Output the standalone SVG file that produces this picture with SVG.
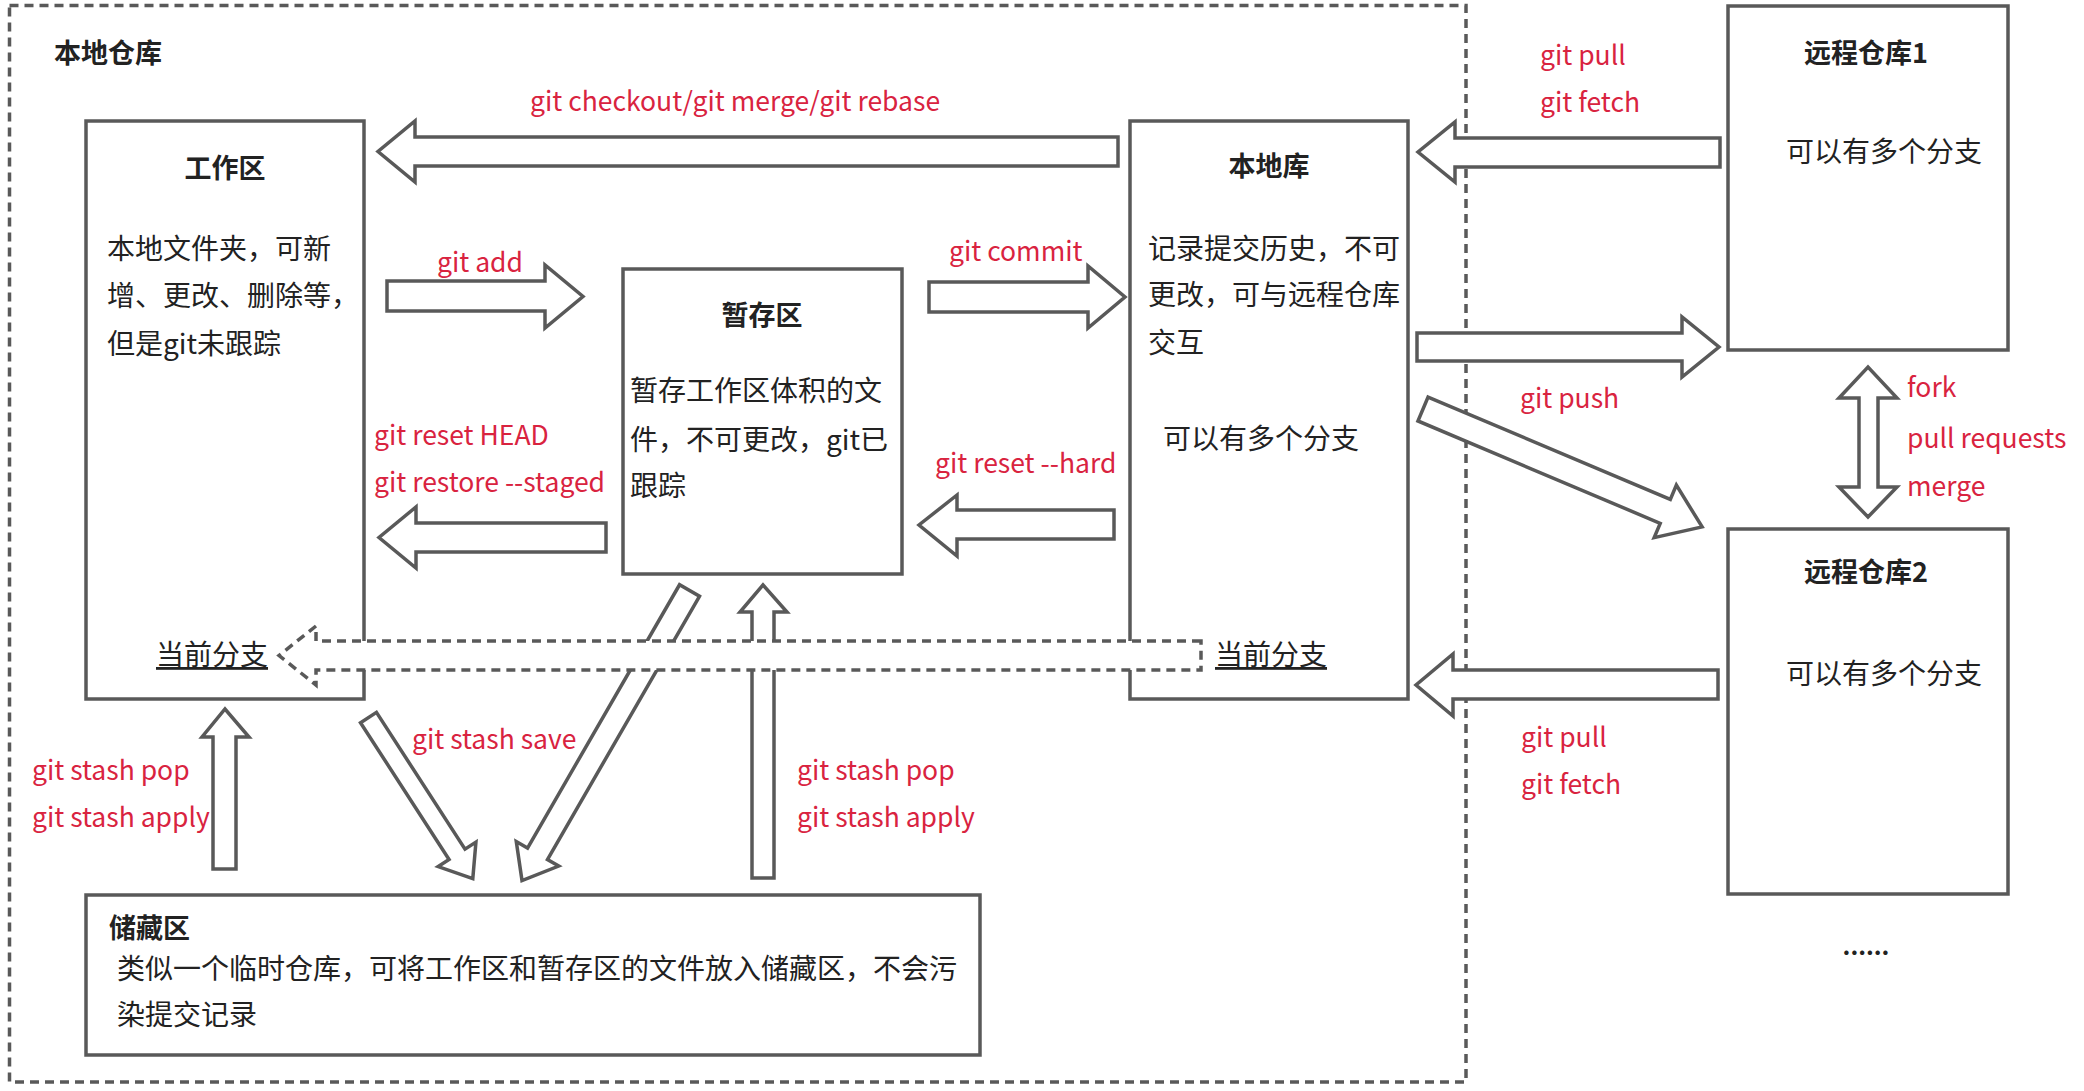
<svg xmlns="http://www.w3.org/2000/svg" width="2084" height="1091" viewBox="0 0 2084 1091">
<style>
.box{fill:#fff;stroke:#595959;stroke-width:3.5}
.arr{fill:#fff;stroke:#595959;stroke-width:3.5;stroke-linejoin:miter}
.dash{fill:none;stroke:#595959;stroke-width:3.5;stroke-dasharray:9 6}
.dasharr{fill:#fff;stroke:#595959;stroke-width:3.5;stroke-dasharray:9 6}
text{font-family:"Noto Sans CJK SC","Microsoft YaHei",sans-serif}
.t{font-size:27px;font-weight:bold;fill:#222}
.b{font-size:28px;fill:#222}
.r{font-size:26.5px;fill:#D9233F}
</style>
<rect width="2084" height="1091" fill="#fff"/>
<g id="local-repo-frame">
<rect class="dash" x="9.5" y="5.5" width="1456.5" height="1076.5"/>
<text class="t" x="54" y="63">本地仓库</text>
</g>
<g id="workspace">
<rect class="box" x="86" y="121" width="278" height="578"/>
<text class="t" x="225" y="178" text-anchor="middle">工作区</text>
<text class="b" x="107" y="259">本地文件夹，可新</text>
<text class="b" x="107" y="306">增、更改、删除等，</text>
<text class="b" x="107" y="354">但是git未跟踪</text>
<text class="b" x="156" y="665" text-decoration="underline">当前分支</text>
</g>
<g id="staging">
<rect class="box" x="623" y="269" width="279" height="305"/>
<text class="t" x="762" y="325" text-anchor="middle">暂存区</text>
<text class="b" x="630" y="401">暂存工作区体积的文</text>
<text class="b" x="630" y="450">件，不可更改，git已</text>
<text class="b" x="630" y="496">跟踪</text>
</g>
<g id="local-lib">
<rect class="box" x="1130" y="121" width="278" height="578"/>
<text class="t" x="1269" y="176" text-anchor="middle">本地库</text>
<text class="b" x="1148" y="259">记录提交历史，不可</text>
<text class="b" x="1148" y="305">更改，可与远程仓库</text>
<text class="b" x="1148" y="353">交互</text>
<text class="b" x="1163" y="449">可以有多个分支</text>
<text class="b" x="1215" y="665" text-decoration="underline">当前分支</text>
</g>
<g id="remote1">
<rect class="box" x="1728" y="6" width="280" height="344"/>
<text class="t" x="1866" y="63" text-anchor="middle">远程仓库1</text>
<text class="b" x="1786" y="162">可以有多个分支</text>
</g>
<g id="remote2">
<rect class="box" x="1728" y="529" width="280" height="365"/>
<text class="t" x="1866" y="582" text-anchor="middle">远程仓库2</text>
<text class="b" x="1786" y="684">可以有多个分支</text>
</g>
<g id="stash">
<rect class="box" x="86" y="895" width="894" height="160"/>
<text class="t" x="109" y="938">储藏区</text>
<text class="b" x="117" y="979">类似一个临时仓库，可将工作区和暂存区的文件放入储藏区，不会污</text>
<text class="b" x="117" y="1025">染提交记录</text>
</g>
<g id="more">
<text x="1866" y="955" text-anchor="middle" font-size="24" font-weight="bold" fill="#222">......</text>
</g>
<g id="connectors">
<polygon class="arr" points="1118,137 415,137 415,121 378,151.5 415,182 415,166 1118,166"/>
<polygon class="arr" points="387,281 545,281 545,265 583,296.5 545,328 545,311 387,311"/>
<polygon class="arr" points="929,282 1088,282 1088,266 1125,297 1088,328 1088,312 929,312"/>
<polygon class="arr" points="1114,510 957,510 957,495 919,525 957,556 957,539 1114,539"/>
<polygon class="arr" points="606,523 416,523 416,507 379,537.5 416,568 416,552 606,552"/>
<polygon class="arr" points="1720,138 1455,138 1455,122 1418,152 1455,182 1455,167 1720,167"/>
<polygon class="arr" points="1417,333 1682,333 1682,317 1719,347 1682,377 1682,361 1417,361"/>
<polygon class="arr" points="1718,670 1453,670 1453,654 1416,685 1453,716 1453,699 1718,699"/>
<polygon class="arr" points="213,869 213,737 202,737 225,709 249,737 236,737 236,869"/>
<polygon class="arr" points="752,878 752,612 740,612 763,585 787,612 774,612 774,878"/>
<polygon class="arr" points="1859,398 1839,398 1868,367 1897,398 1878,398 1878,487 1897,487 1868,517 1839,487 1859,487"/>
<path class="arr" d="M0,-13 H263 V-28.5 L303,0 L263,28.5 V13 H0 Z" transform="translate(1423,409) rotate(22.9)"/>
<path class="arr" d="M0,-9.5 H163 V-22.5 L192,0 L163,22.5 V9.5 H0 Z" transform="translate(368.5,717.5) rotate(57.1)"/>
<path class="arr" d="M0,-11.5 H304 V-24.5 L335,0 L304,24.5 V11.5 H0 Z" transform="translate(689.5,590.5) rotate(120)"/>
<polygon class="dasharr" points="1201,641 316,641 316,626 279,655.5 316,685 316,670 1201,670"/>
<text class="r" x="530" y="111">git checkout/git merge/git rebase</text>
<text class="r" x="437" y="272">git add</text>
<text class="r" x="949" y="261">git commit</text>
<text class="r" x="374" y="445">git reset HEAD</text>
<text class="r" x="374" y="492">git restore --staged</text>
<text class="r" x="935" y="473">git reset --hard</text>
<text class="r" x="412" y="749">git stash save</text>
<text class="r" x="32" y="780">git stash pop</text>
<text class="r" x="32" y="827">git stash apply</text>
<text class="r" x="797" y="780">git stash pop</text>
<text class="r" x="797" y="827">git stash apply</text>
<text class="r" x="1540" y="65">git pull</text>
<text class="r" x="1540" y="112">git fetch</text>
<text class="r" x="1520" y="408">git push</text>
<text class="r" x="1521" y="747">git pull</text>
<text class="r" x="1521" y="794">git fetch</text>
<text class="r" x="1907" y="397">fork</text>
<text class="r" x="1907" y="448">pull requests</text>
<text class="r" x="1907" y="496">merge</text>
</g>
</svg>
